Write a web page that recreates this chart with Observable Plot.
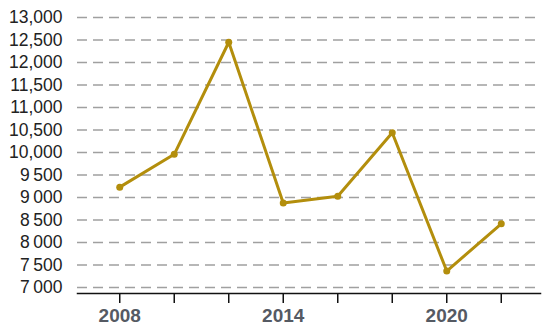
<!DOCTYPE html>
<html>
<head>
<meta charset="utf-8">
<script src="https://cdn.jsdelivr.net/npm/d3@7"></script>
<script src="https://cdn.jsdelivr.net/npm/@observablehq/plot@0.6"></script>
<style>
  html, body { margin: 0; padding: 0; background: #fff; }
  #chart svg { display: block; }
</style>
</head>
<body>
<div id="chart"></div>
<script>
const years = [2008, 2010, 2012, 2014, 2016, 2018, 2020, 2022];
const values = [9230, 9960, 12450, 8880, 9030, 10440, 7365, 8415];
const yTicks = [7000, 7500, 8000, 8500, 9000, 9500, 10000, 10500, 11000, 11500, 12000, 12500, 13000];
const xLabelYears = [2008, 2014, 2020];

const data = years.map((year, i) => ({year, value: values[i]}));

const fmtY = d => d >= 10000 ? d3.format(",")(d) : d3.format(",")(d).replace(",", "\u2009");

const chart = Plot.plot({
  width: 550,
  height: 330,
  marginTop: 17,
  marginBottom: 37,
  marginLeft: 77,
  marginRight: 10,
  insetBottom: 6,
  style: {fontFamily: "Liberation Sans, Arial, sans-serif", background: "#fff"},
  x: {domain: [2006.45, 2023.44]},
  y: {domain: [7000, 13000]},
  marks: [
    Plot.gridY(yTicks, {stroke: "#a0a0a0", strokeOpacity: 1, strokeWidth: 1.5, strokeDasharray: "10,6"}),
    Plot.axisY(yTicks, {tickSize: 0, tickPadding: 15, tickFormat: fmtY, fontSize: 17.5, fill: "#222", label: null}),
    Plot.frame({anchor: "bottom", stroke: "#111", strokeWidth: 1.5}),
    Plot.axisX(years, {tickSize: 10, tickPadding: 5, stroke: "#111", strokeWidth: 1.5,
      tickFormat: d => xLabelYears.includes(d) ? String(d) : "",
      fontSize: 19, fontWeight: "bold", fill: "#555a63", label: null}),
    Plot.line(data, {x: "year", y: "value", stroke: "#b38e0c", strokeWidth: 3}),
    Plot.dot(data, {x: "year", y: "value", fill: "#b38e0c", r: 3.5})
  ]
});
document.getElementById("chart").appendChild(chart);
</script>
</body>
</html>
